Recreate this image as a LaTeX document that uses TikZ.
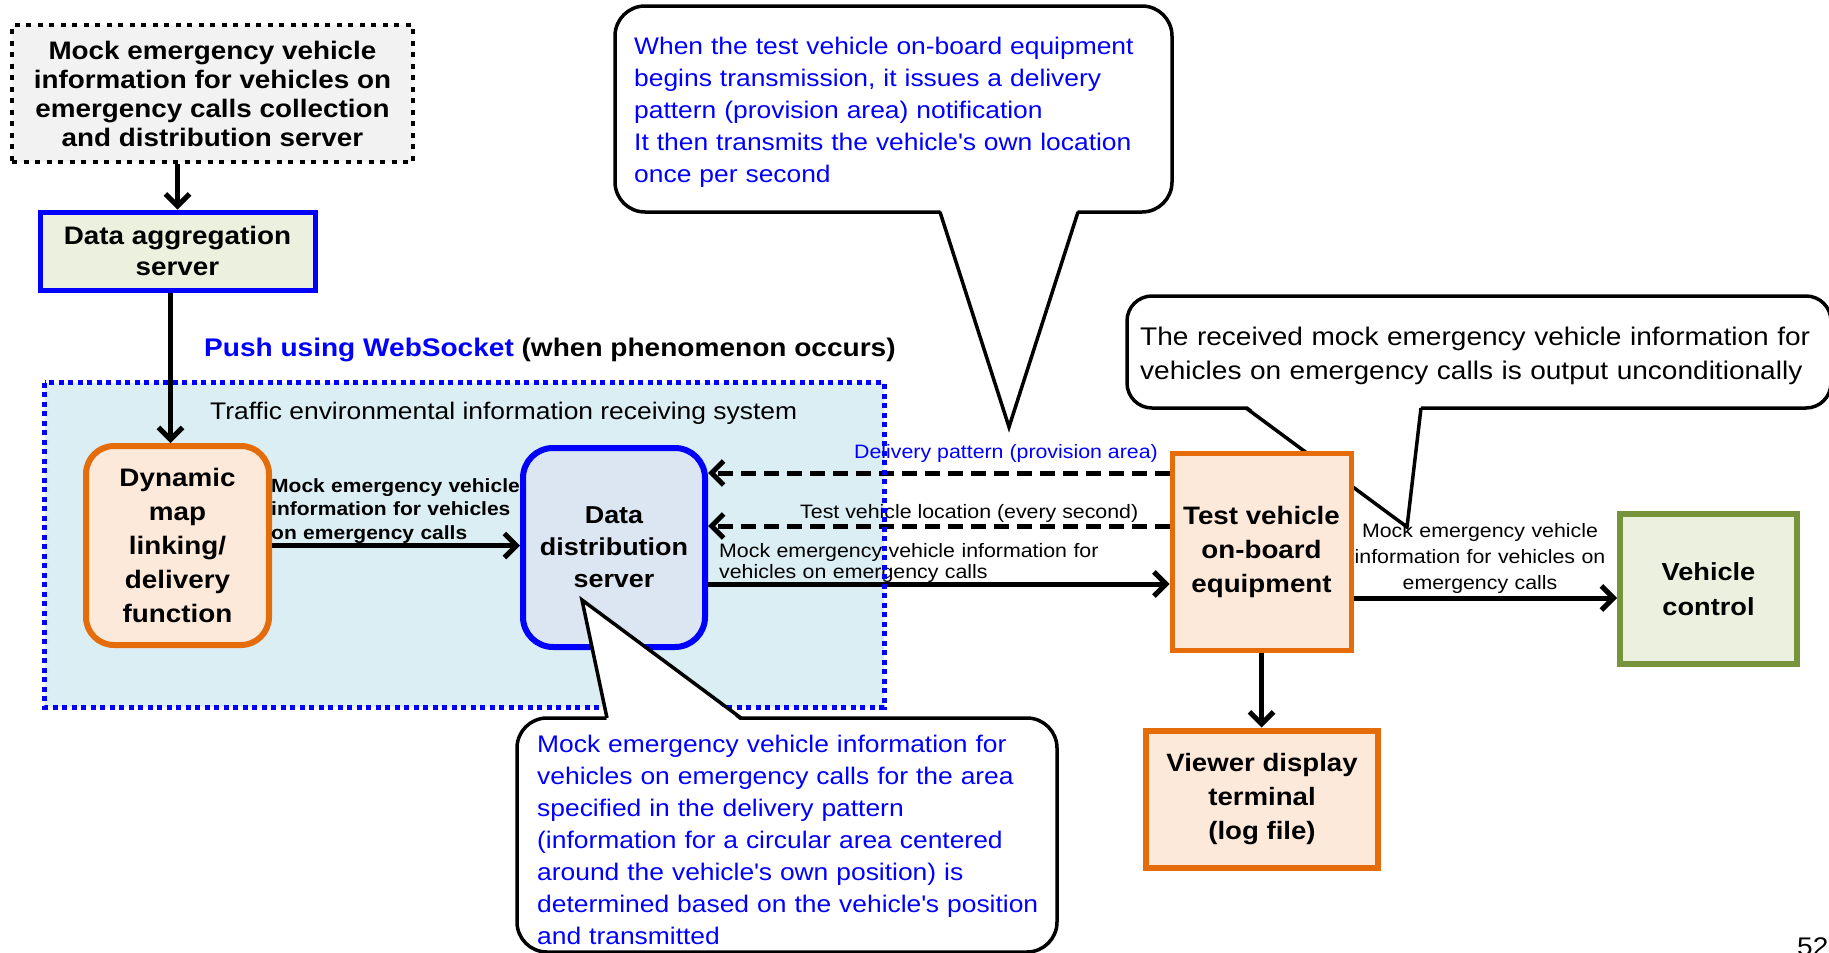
\documentclass[tikz,border=0pt]{standalone}
\usepackage{fontspec}
\setmainfont{Liberation Sans}[FakeStretch=1.1]
\usetikzlibrary{arrows.meta}
\definecolor{orng}{HTML}{E46C0A}
\definecolor{peach}{HTML}{FDE9D9}
\definecolor{lblue}{HTML}{DBEEF4}
\definecolor{ddsfill}{HTML}{DCE6F2}
\definecolor{grn}{HTML}{77933C}
\definecolor{grnfill}{HTML}{EBF1DE}
\definecolor{grayfill}{HTML}{F2F2F2}
\definecolor{pblue}{HTML}{0000FF}
\newcommand{\myfs}[2]{\fontsize{#1}{#2}\selectfont}
\newcommand{\apos}{\textquotesingle}
\tikzset{
  arr/.style={line width=5pt,-{Straight Barb[length=12pt,width=24pt]}},
  darr/.style={arr,dash pattern=on 15pt off 8pt},
  boxn/.style={inner sep=0pt,align=center},
  callbox/.style={draw,line width=3.5pt,fill=white,inner sep=0pt},
  callline/.style={line width=3.5pt,line join=miter},
  lbl/.style={inner sep=0pt,font=\myfs{19.4}{21}},
}
\begin{document}
\begin{tikzpicture}[x=1pt,y=-1pt]
\useasboundingbox (0,0) rectangle (1829,953);

% system area
\node[fill=lblue,minimum width=839pt,minimum height=324pt,inner sep=0pt] (sys) at (464.5,545) {};
\node[anchor=base west,inner sep=0pt,font=\myfs{24}{28}] (systitle) at (210,419) {Traffic environmental information receiving system};
\node[anchor=base west,inner sep=0pt,font={\myfs{25.5}{30}\bfseries}] (push) at (204,356) {\textcolor{pblue}{Push using WebSocket} (when phenomenon occurs)};

% top boxes
\node[boxn,draw=black,line width=4pt,dash pattern=on 5pt off 6.5pt,fill=grayfill,minimum width=401pt,minimum height=137pt,font={\myfs{25.3}{29}\bfseries}] (top) at (212.5,93.5) {Mock emergency vehicle\\information for vehicles on\\emergency calls collection\\and distribution server};
\node[boxn,draw=pblue,line width=5pt,fill=grnfill,minimum width=275pt,minimum height=78pt,font={\myfs{25.3}{31}\bfseries}] (agg) at (177.5,251) {Data aggregation\\server};
\draw[arr] (agg.north |- top.south) -- (agg.north);

% callout 1
\node[callbox,rounded corners=30pt,minimum width=557pt,minimum height=206pt] (c1) at (893.5,109) {};
\coordinate (c1a) at (940,212);
\coordinate (c1b) at (1078,212);
\coordinate (c1tip) at (1009,427);
\fill[white] (940,209) -- (c1tip) -- (1078,209) -- cycle;
\draw[callline] (c1a) -- (c1tip) -- (c1b);
\node[anchor=base west,inner sep=0pt,text width=530pt,align=left,text=pblue,font=\myfs{24}{32}] (c1t) at (634,54) {When the test vehicle on-board equipment\\begins transmission, it issues a delivery\\pattern (provision area) notification\\It then transmits the vehicle\apos s own location\\once per second};

% callout 2
\node[callbox,rounded corners=25pt,minimum width=704pt,minimum height=112pt] (c2) at (1479,352) {};
\coordinate (c2a) at (1246,408);
\coordinate (c2b) at (1421,408);
\coordinate (c2tip) at (1407,527);
\fill[white] (1246,405) -- (c2tip) -- (1421,405) -- cycle;
\draw[callline] (c2a) -- (c2tip) -- (c2b);
\node[anchor=base west,inner sep=0pt,text width=690pt,align=left,font=\myfs{25.5}{34}] (c2t) at (1140,345) {The received mock emergency vehicle information for\\vehicles on emergency calls is output unconditionally};

% main boxes
\node[boxn,draw=orng,line width=6pt,fill=peach,rounded corners=28pt,minimum width=183pt,minimum height=199pt,font={\myfs{25.3}{34}\bfseries}] (dyn) at (177.5,545.5) {Dynamic\\map\\linking/\\delivery\\function};
\draw[arr] ([xshift=-7pt]agg.south) -- ([xshift=-7pt]agg.south |- dyn.north);
\node[boxn,draw=pblue,line width=6pt,fill=ddsfill,rounded corners=30pt,minimum width=182pt,minimum height=199pt,font={\myfs{24.5}{32}\bfseries}] (dds) at (614,547.5) {Data\\distribution\\server};
\node[boxn,draw=orng,line width=5pt,fill=peach,minimum width=179pt,minimum height=197pt,font={\myfs{25.2}{34}\bfseries}] (tv) at (1261.5,551.5) {Test vehicle\\on-board\\equipment};
\node[boxn,draw=grn,line width=6pt,fill=grnfill,minimum width=177pt,minimum height=150pt,font={\myfs{24.7}{35}\bfseries}] (vc) at (1708.5,589) {Vehicle\\control};
\node[boxn,draw=orng,line width=6pt,fill=peach,minimum width=232pt,minimum height=137pt,font={\myfs{25.1}{34}\bfseries}] (vw) at (1262,799) {Viewer display\\terminal\\(log file)};

% connectors
\coordinate (yA) at (0,473);
\coordinate (yB) at (0,526);
\coordinate (yC) at (0,584);
\coordinate (yD) at (0,598);
\draw[arr] (dyn.east) -- (dyn.east -| dds.west);
\draw[darr] (tv.west |- yA) -- (dds.east |- yA);
\draw[darr] (tv.west |- yB) -- (dds.east |- yB);
\draw[arr] (dds.east |- yC) -- (tv.west |- yC);
\draw[arr] (tv.east |- yD) -- (vc.west |- yD);
\draw[arr] (tv.south) -- (tv.south |- vw.north);

% connector labels
\node[anchor=base west,inner sep=0pt,text width=320pt,align=left,font={\myfs{19.1}{23.5}\bfseries}] (ldyn) at (271,492) {Mock emergency vehicle\\information for vehicles\\on emergency calls};
\node[lbl,anchor=base west,text=pblue] (ldel) at (854,458) {Delivery pattern (provision area)};
\node[lbl,anchor=base west] (lloc) at (800,518) {Test vehicle location (every second)};
\node[lbl,anchor=base west,text width=400pt,align=left] (lmock) at (719,557) {Mock emergency vehicle information for\\vehicles on emergency calls};
\node[lbl,anchor=base,text width=270pt,align=center,font=\myfs{19.4}{26}] (ltv) at (1480,537) {Mock emergency vehicle\\information for vehicles on\\emergency calls};

% system border on top
\draw[pblue,line width=5pt,dash pattern=on 5pt off 4.5pt] (sys.north west) rectangle (sys.south east);

% callout 3
\node[callbox,rounded corners=30pt,minimum width=540pt,minimum height=234pt] (c3) at (787,835) {};
\coordinate (c3a) at (607,718);
\coordinate (c3b) at (741,718);
\coordinate (c3tip) at (582,600);
\fill[white] (607,721) -- (c3tip) -- (741,721) -- cycle;
\draw[callline] (c3a) -- (c3tip) -- (c3b);
\node[anchor=base west,inner sep=0pt,text width=520pt,align=left,text=pblue,font=\myfs{24}{32}] (c3t) at (537,752) {Mock emergency vehicle information for\\vehicles on emergency calls for the area\\specified in the delivery pattern\\(information for a circular area centered\\around the vehicle\apos s own position) is\\determined based on the vehicle\apos s position\\and transmitted};

% page number
\node[anchor=base west,inner sep=0pt,font=\myfs{25.5}{30}] (pg) at (1797,955) {52};
\end{tikzpicture}
\end{document}
